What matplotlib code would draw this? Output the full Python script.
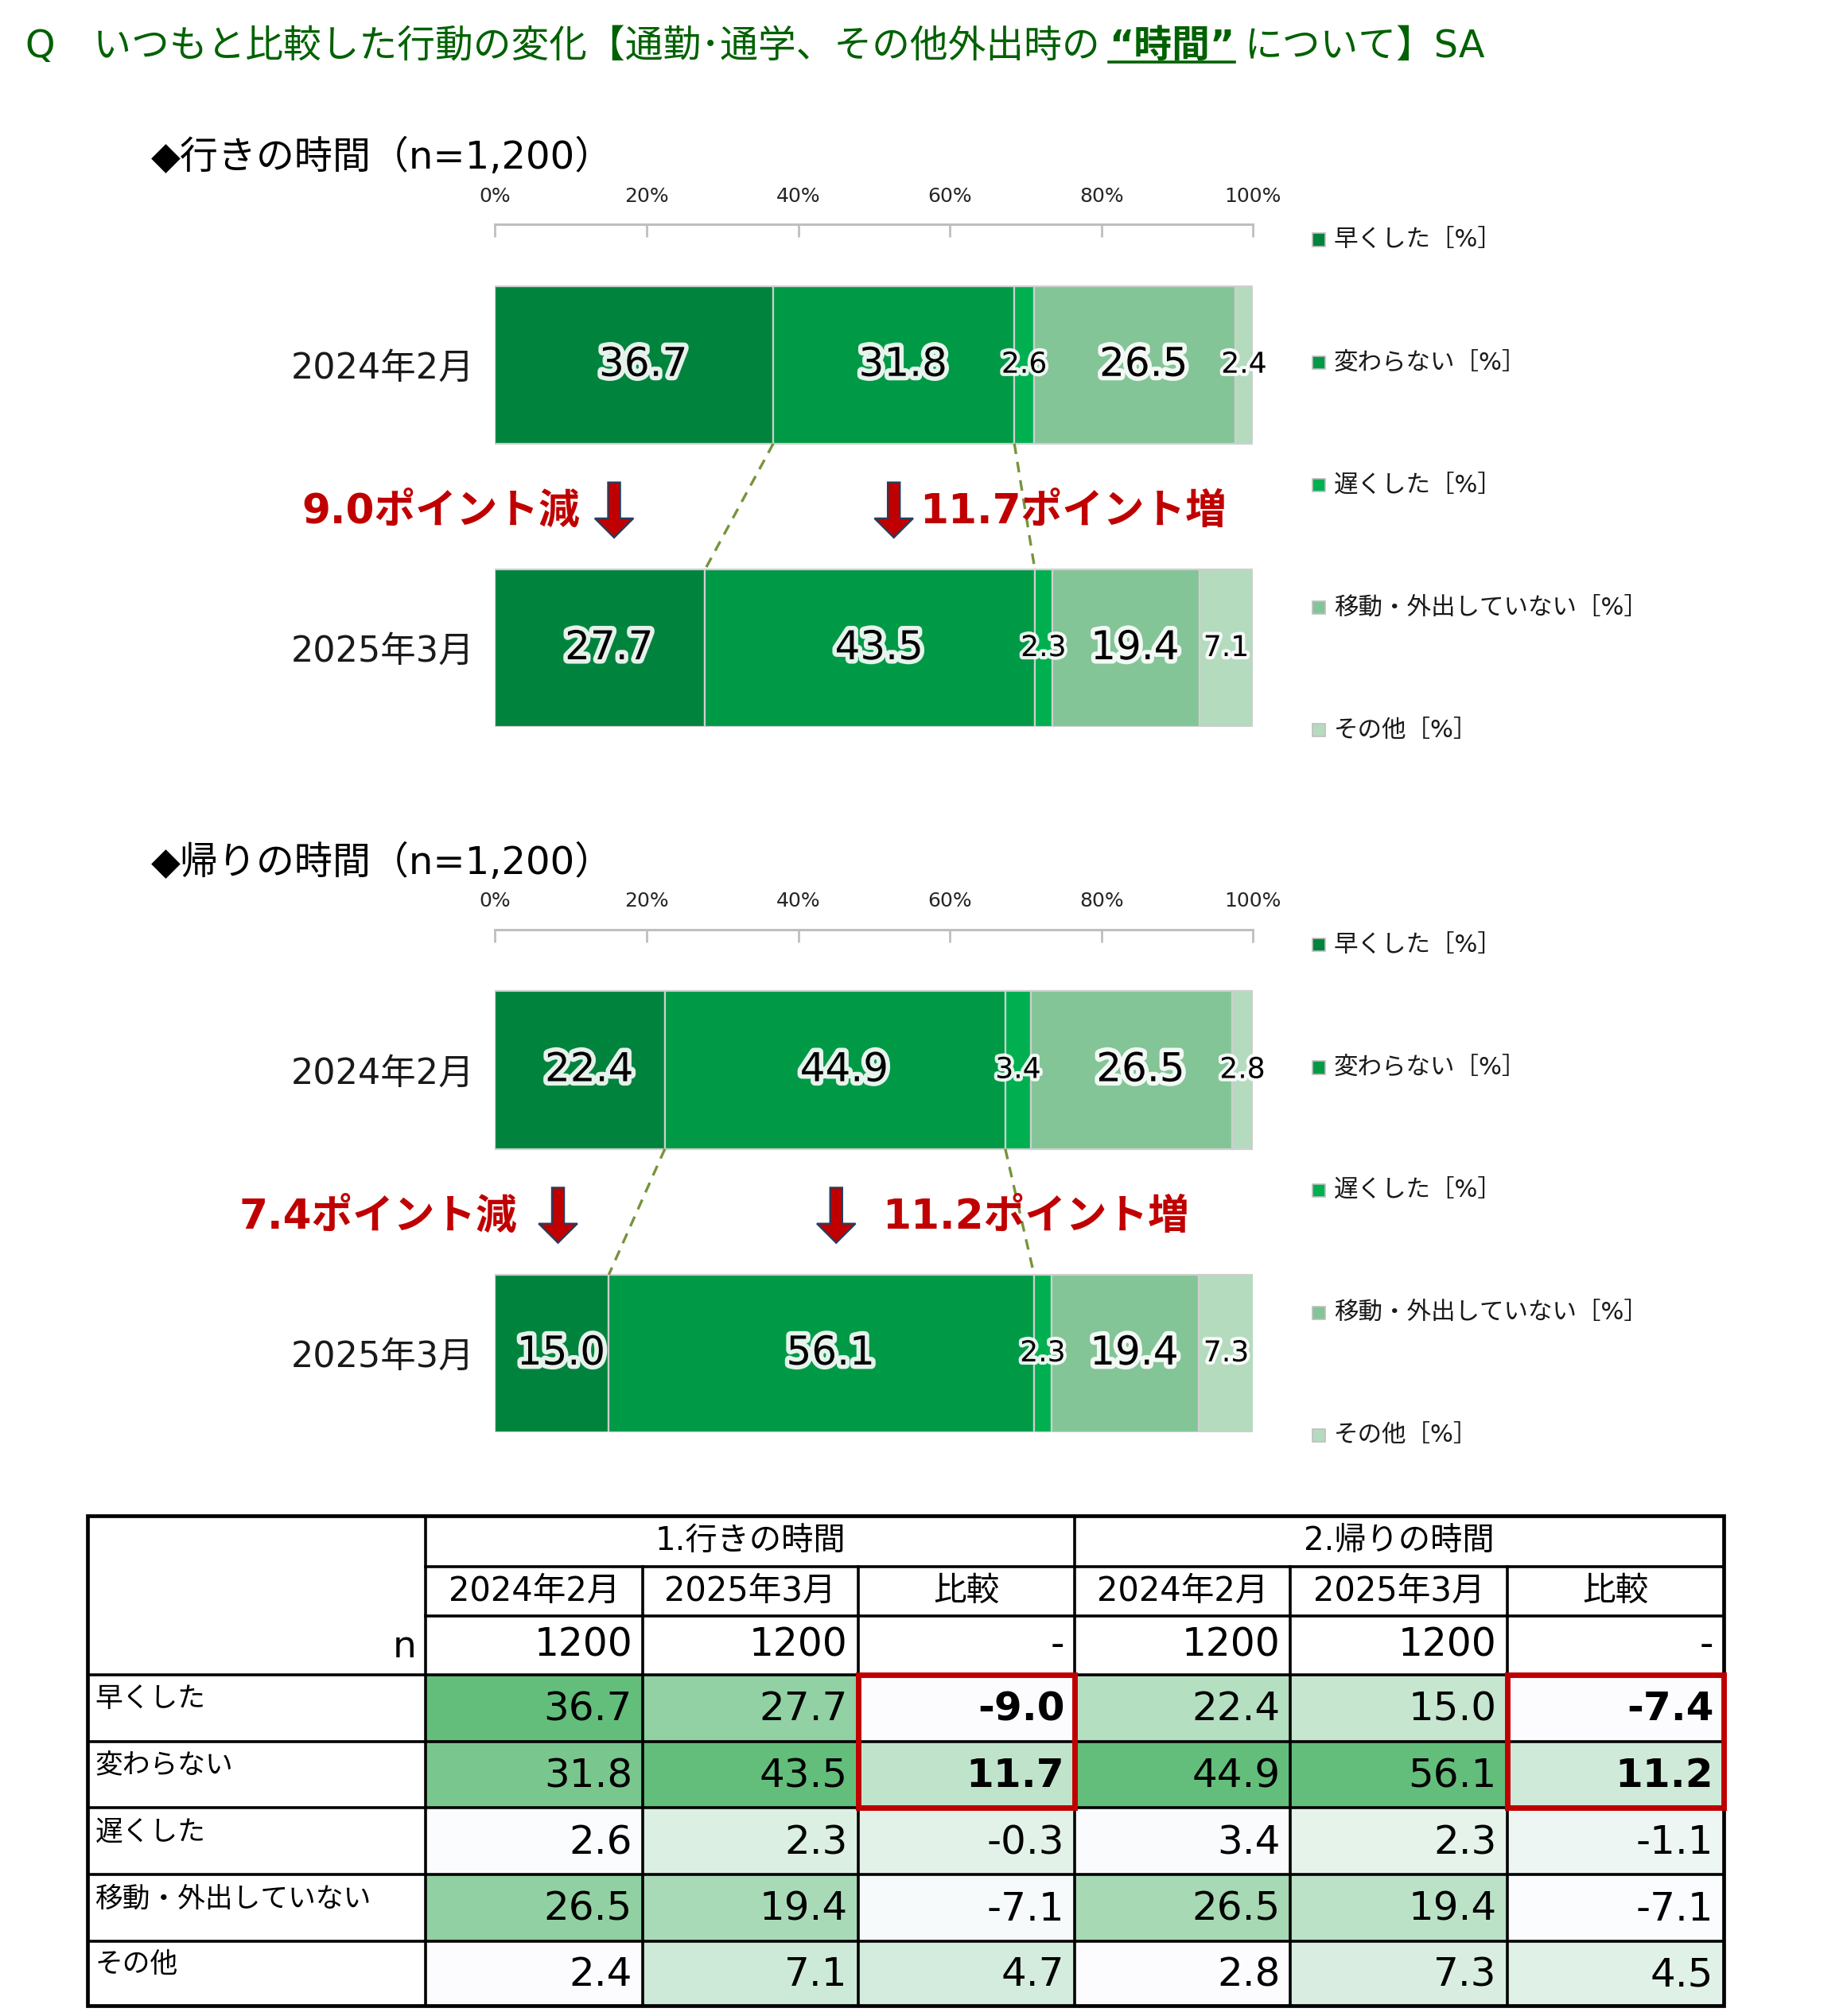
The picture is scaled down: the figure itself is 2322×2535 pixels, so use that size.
import numpy as np
import matplotlib
matplotlib.use("Agg")
import matplotlib.pyplot as plt
import matplotlib.patheffects as pe
from matplotlib.patches import Rectangle, FancyArrow
from matplotlib.colors import LinearSegmentedColormap, Normalize
from matplotlib.lines import Line2D

plt.rcParams['font.family'] = ['DejaVu Sans', 'Noto Sans CJK JP']

# ---- data ----
CATEGORIES = ["早くした", "変わらない", "遅くした", "移動・外出していない", "その他"]
PERIODS = ["2024年2月", "2025年3月"]
GO_2024 = [36.7, 31.8, 2.6, 26.5, 2.4]
GO_2025 = [27.7, 43.5, 2.3, 19.4, 7.1]
BACK_2024 = [22.4, 44.9, 3.4, 26.5, 2.8]
BACK_2025 = [15.0, 56.1, 2.3, 19.4, 7.3]
GO_DIFF = [-9.0, 11.7, -0.3, -7.1, 4.7]
BACK_DIFF = [-7.4, 11.2, -1.1, -7.1, 4.5]
N_SIZE = [1200, 1200]
GO_NOTES = ["9.0ポイント減", "11.7ポイント増"]
BACK_NOTES = ["7.4ポイント減", "11.2ポイント増"]
SECTION_TITLES = ["◆行きの時間（n=1,200）", "◆帰りの時間（n=1,200）"]
TABLE_GROUPS = ["1.行きの時間", "2.帰りの時間"]
TICKS = [0, 20, 40, 60, 80, 100]

BAR_COLORS = ['#00843D', '#009A46', '#00B050', '#84C597', '#B5DBBF']
TITLE_COLOR = '#006100'
RED = '#C00000'

# layout helper: coordinates measured on a 1440-wide copy of the reference
W, H = 1440.0, 1572.2


def fx(x):
    return x / W


def fy(y):
    return 1 - y / H


fig = plt.figure(figsize=(11.61, 12.675), dpi=200)
renderer = fig.canvas.get_renderer()

# ---- title with bold/underlined part ----
parts = [("Q　いつもと比較した行動の変化【通勤･通学、その他外出時の", "normal", False),
         ("“時間”", "bold", True),
         ("について】SA", "normal", False)]
x = fx(20)
for txt, weight, ul in parts:
    t = fig.text(x, fy(36), txt, fontsize=17.2, color=TITLE_COLOR,
                 weight=weight, va='center', ha='left')
    bb = t.get_window_extent(renderer).transformed(fig.transFigure.inverted())
    if ul:
        fig.add_artist(Line2D([bb.x0, bb.x1], [bb.y0 + 0.0015] * 2,
                              color=TITLE_COLOR, lw=1.3,
                              transform=fig.transFigure))
    x = bb.x1 + fx(7)


def draw_section(top, title, d24, d25, notes, arrows_x, note_x):
    fig.text(fx(118), fy(top - 52), title, fontsize=17.3, va='center', ha='left')

    ax = fig.add_axes([fx(386), fy(top + 392), fx(977) - fx(386), 392 / H])
    ys = [1, 0]
    h = 0.556
    left = np.zeros(2)
    cum = []
    for i, cat in enumerate(CATEGORIES):
        vals = np.array([d24[i], d25[i]])
        ax.barh(ys, vals, left=left, height=h, color=BAR_COLORS[i],
                edgecolor='#CFCFCF', linewidth=0.8, zorder=2)
        for yy, v, l in zip(ys, vals, left):
            big = v >= 10
            ax.text(l + v / 2 + (1.2 if big else 0), yy, f"{v:.1f}",
                    ha='center', va='center',
                    fontsize=18 if big else 13, color='black', zorder=5,
                    path_effects=[pe.withStroke(linewidth=4 if big else 3,
                                                foreground='white', alpha=0.9)])
        left = left + vals
        cum.append(left.copy())

    # dashed connectors at the end of the first two segments
    for k in (0, 1):
        ax.plot([cum[k][0], cum[k][1]], [1 - h / 2, 0 + h / 2],
                ls=(0, (4, 3)), color='#77933C', lw=1.2, zorder=3)

    ax.set_xlim(0, 100)
    ax.set_ylim(-0.2785, 1.4955)
    ax.xaxis.tick_top()
    ax.set_xticks(TICKS)
    ax.set_xticklabels([f"{t}%" for t in TICKS])
    ax.tick_params(axis='x', direction='in', length=5.8, width=1.0,
                   color='#BFBFBF', labelsize=9, pad=8.5, labelcolor='#262626')
    ax.set_yticks(ys)
    ax.set_yticklabels(PERIODS, fontsize=16, color='#1a1a1a')
    ax.tick_params(axis='y', length=0, pad=9.3)
    for s in ('left', 'right', 'bottom'):
        ax.spines[s].set_visible(False)
    ax.spines['top'].set_color('#BFBFBF')
    ax.spines['top'].set_linewidth(1.1)

    # point-change notes with down arrows
    ax.text(note_x[0], 0.48, notes[0], ha='right', va='center', fontsize=18.6,
            weight='bold', color=RED, zorder=6)
    ax.text(note_x[1], 0.48, notes[1], ha='left', va='center', fontsize=18.6,
            weight='bold', color=RED, zorder=6)
    for axx in arrows_x:
        ax.add_patch(FancyArrow(axx, 0.585, 0, -0.195, width=1.6, head_width=5.1,
                                head_length=0.068, length_includes_head=True,
                                fc=RED, ec='#243F60', lw=0.8, zorder=6,
                                clip_on=False))

    # legend column
    for i, cat in enumerate(CATEGORIES):
        ly = top + 12 + i * 95.6
        fig.patches.append(Rectangle((fx(1023), fy(ly + 5)), 10 / W, 10 / H,
                                     transform=fig.transFigure,
                                     fc=BAR_COLORS[i], ec='#BFBFBF', lw=0.6))
        fig.text(fx(1040), fy(ly), cat + "［%］", fontsize=11,
                 va='center', ha='left', color='#1a1a1a')


draw_section(175, SECTION_TITLES[0], GO_2024, GO_2025, GO_NOTES,
             arrows_x=[15.7, 52.6], note_x=[11.2, 56.0])
draw_section(725, SECTION_TITLES[1], BACK_2024, BACK_2025, BACK_NOTES,
             arrows_x=[8.3, 45.0], note_x=[2.9, 51.1])

# ---- summary table ----
tab = fig.add_axes([fx(68), fy(1564), fx(1344) - fx(68), 382 / H])
col_w = [264, 169, 168, 169, 168, 169, 169]
row_h = [40, 38, 46, 52, 52, 52, 52, 50]
xs = np.concatenate([[0], np.cumsum(col_w)])
ys = np.concatenate([[0], np.cumsum(row_h)])
tab.set_xlim(0, xs[-1])
tab.set_ylim(ys[-1], 0)
tab.axis('off')

cmap = LinearSegmentedColormap.from_list('xl_green', ['#FCFCFF', '#63BE7B'])
columns = [GO_2024, GO_2025, GO_DIFF, BACK_2024, BACK_2025, BACK_DIFF]
go_norm = Normalize(min(GO_2025 + GO_DIFF), max(GO_2025 + GO_DIFF))
back_norm = Normalize(min(BACK_2025 + BACK_DIFF), max(BACK_2025 + BACK_DIFF))
norms = [Normalize(min(GO_2024), max(GO_2024)), go_norm, go_norm,
         Normalize(min(BACK_2024), max(BACK_2024)), back_norm, back_norm]

for c, (vals, nm) in enumerate(zip(columns, norms)):
    for r, v in enumerate(vals):
        tab.add_patch(Rectangle((xs[c + 1], ys[r + 3]), col_w[c + 1], row_h[r + 3],
                                fc=cmap(nm(v)), ec='none', zorder=1))
        bold = (c in (2, 5)) and r < 2
        tab.text(xs[c + 2] - 8, (ys[r + 3] + ys[r + 4]) / 2 + 1, f"{v:.1f}",
                 ha='right', va='center', fontsize=18,
                 weight='bold' if bold else 'normal', zorder=4)

for r, cat in enumerate(CATEGORIES):
    tab.text(6, ys[r + 3] + row_h[r + 3] / 2 - 7, cat, ha='left', va='center',
             fontsize=12.5, zorder=4)

# headers
for g, name in enumerate(TABLE_GROUPS):
    x0, x1 = xs[1 + 3 * g], xs[4 + 3 * g]
    tab.text((x0 + x1) / 2, row_h[0] / 2, name, ha='center', va='center', fontsize=14.5)
    for k, lab in enumerate(PERIODS + ["比較"]):
        c = 1 + 3 * g + k
        tab.text((xs[c] + xs[c + 1]) / 2, ys[1] + row_h[1] / 2, lab,
                 ha='center', va='center', fontsize=15)
        nlab = str(N_SIZE[k]) if k < 2 else "-"
        tab.text(xs[c + 1] - 8, ys[2] + row_h[2] / 2, nlab, ha='right',
                 va='center', fontsize=17.5)
tab.text(xs[1] - 7, ys[2] + row_h[2] / 2 + 2, "n", ha='right', va='center', fontsize=17)

# grid lines
lw_in = 1.3
for xi in (xs[1], xs[4]):
    tab.plot([xi, xi], [0, ys[-1]], color='black', lw=lw_in, zorder=3)
for xi in (xs[2], xs[3], xs[5], xs[6]):
    tab.plot([xi, xi], [ys[1], ys[-1]], color='black', lw=lw_in, zorder=3)
for yi in (ys[1], ys[2]):
    tab.plot([xs[1], xs[-1]], [yi, yi], color='black', lw=lw_in, zorder=3)
for yi in ys[3:-1]:
    tab.plot([0, xs[-1]], [yi, yi], color='black', lw=lw_in, zorder=3)
tab.add_patch(Rectangle((0, 0), xs[-1], ys[-1], fill=False, ec='black',
                        lw=1.7, zorder=3, clip_on=False))

# red highlight frames on the first two comparison rows
for c in (3, 6):
    tab.add_patch(Rectangle((xs[c], ys[3]), col_w[c], row_h[3] + row_h[4],
                            fill=False, ec=RED, lw=2.5, zorder=5, clip_on=False))

fig.savefig("out.png", dpi=200)
